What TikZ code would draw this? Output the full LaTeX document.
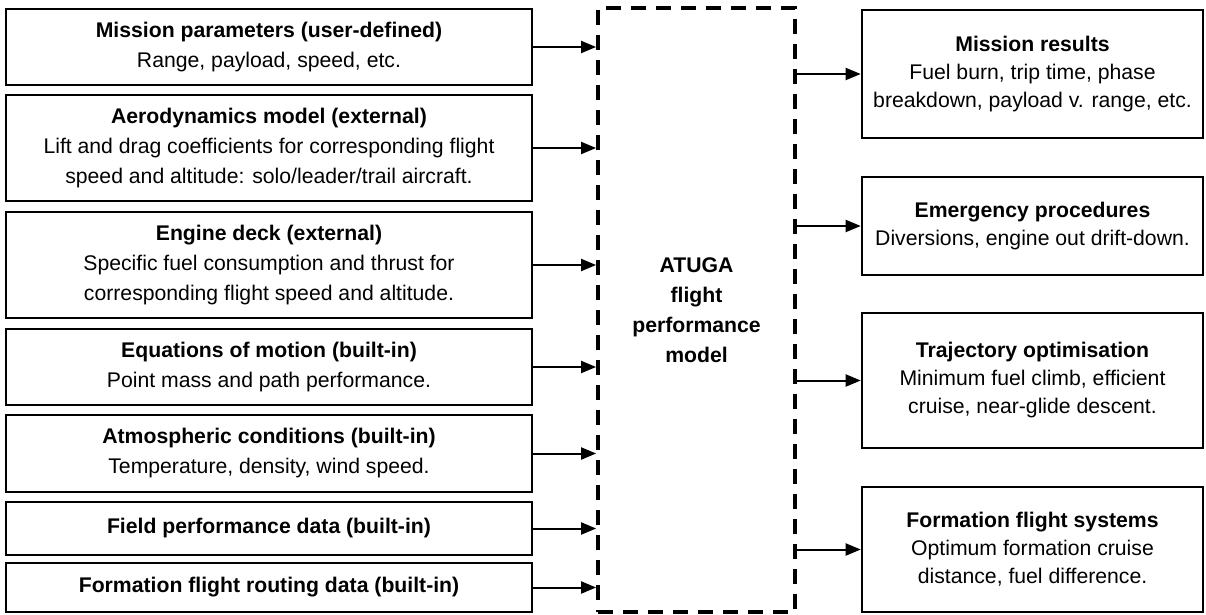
\documentclass[tikz,border=0pt]{standalone}
\usepackage{fontspec}
\setmainfont{Liberation Sans}
\usetikzlibrary{arrows.meta}
\begin{document}
\begin{tikzpicture}[x=1pt,y=-1pt,
  box/.style={draw, line width=2.6pt, inner sep=0pt, align=center,
    font=\fontsize{21.2}{30}\selectfont},
  lbox/.style={box, minimum width=526pt},
  rbox/.style={box, minimum width=341pt, font=\fontsize{21.2}{28}\selectfont},
  model/.style={draw, line width=3.8pt, dash pattern=on 15pt off 10pt,
    minimum width=197pt, minimum height=604pt, inner sep=0pt, align=center,
    font=\bfseries\fontsize{21.2}{30}\selectfont},
  conn/.style={line width=2pt, -{Triangle[length=15pt,width=12pt]}}]
\useasboundingbox (0,0) rectangle (1206,615);
\fill[white] (0,0) rectangle (1206,615);

\node[model] (m) at (696.5,310) {ATUGA\\flight\\performance\\model};

\node[lbox, minimum height=76pt] (l1) at (269,47)
  {\textbf{Mission parameters (user-defined)}\\Range, payload, speed, etc.};
\node[lbox, minimum height=106pt] (l2) at (269,148)
  {\textbf{Aerodynamics model (external)}\\Lift and drag coefficients for corresponding flight\\speed and altitude: solo/leader/trail aircraft.};
\node[lbox, minimum height=106pt] (l3) at (269,265)
  {\textbf{Engine deck (external)}\\Specific fuel consumption and thrust for\\corresponding flight speed and altitude.};
\node[lbox, minimum height=76pt] (l4) at (269,367)
  {\textbf{Equations of motion (built-in)}\\Point mass and path performance.};
\node[lbox, minimum height=77pt] (l5) at (269,453.5)
  {\textbf{Atmospheric conditions (built-in)}\\Temperature, density, wind speed.};
\node[lbox, minimum height=53pt] (l6) at (269,528.5)
  {\textbf{Field performance data (built-in)}};
\node[lbox, minimum height=49pt] (l7) at (269,587.5)
  {\textbf{Formation flight routing data (built-in)}};

\node[rbox, minimum height=128pt] (r1) at (1032.5,74)
  {\textbf{Mission results}\\Fuel burn, trip time, phase\\breakdown, payload v. range, etc.};
\node[rbox, minimum height=98pt] (r2) at (1032.5,226)
  {\textbf{Emergency procedures}\\Diversions, engine out drift-down.};
\node[rbox, minimum height=135pt] (r3) at (1032.5,380.5)
  {\textbf{Trajectory optimisation}\\Minimum fuel climb, efficient\\cruise, near-glide descent.};
\node[rbox, minimum height=125pt] (r4) at (1032.5,549.5)
  {\textbf{Formation flight systems}\\Optimum formation cruise\\distance, fuel difference.};

\foreach \i in {1,...,7}
  \draw[conn] (l\i.east) -- (l\i.east -| m.west);
\foreach \i in {1,...,4}
  \draw[conn] (r\i.west -| m.east) -- (r\i.west);
\end{tikzpicture}
\end{document}
